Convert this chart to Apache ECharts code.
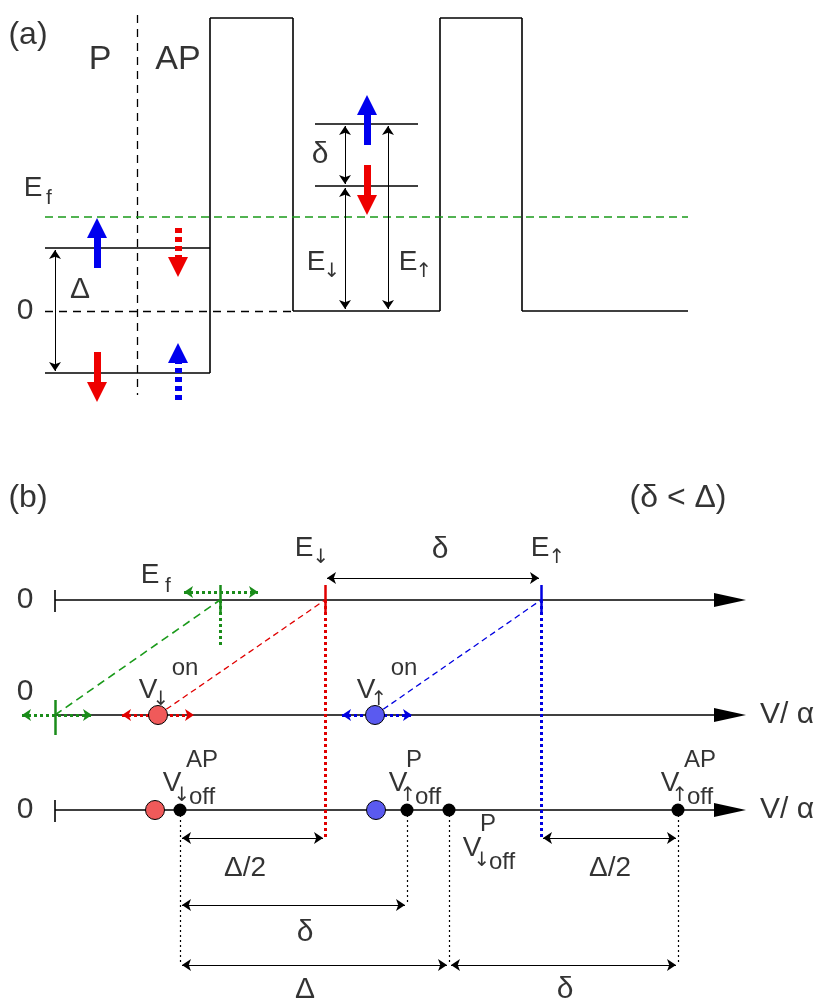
<!DOCTYPE html><html><head><meta charset="utf-8">
<script src="https://cdn.jsdelivr.net/npm/echarts@6/dist/echarts.min.js"></script>
<style>html,body{margin:0;background:#fff}#c{width:830px;height:999px}</style></head><body><div id="c"></div>
<script>
// [x1,y1,x2,y2]
const solidBlack=[[45,248,210,248],[45,373,210,373],[210,373,210,18],[210,18,293,18],[293,18,293,311],[293,311,440,311],[440,311,440,18],[440,18,522,18],[522,18,522,311],[522,311,688,311],[315,124,418,124],[315,186,418,186],
 [55,600,720,600],[55,715,720,715],[55,810,720,810],[55,590,55,612],[55,800,55,822]];
const dashedBlack=[[137,15,137,395],[45,311,293,311]];
const greenDashed=[[45,217,688,217],[55,715,220,600]];
const redDashed=[[158,715,325,600]];
const blueDashed=[[375,715,541,600]];
const doubleArrows=[[55,250,55,371],[345,126,345,184],[345,188,345,309],[388,126,388,309],[327,578,539,578],
 [182,838,323,838],[543,838,676,838],[182,905,405,905],[182,965,447,965],[451,965,676,965]];
const blackDotted=[[180,810,180,965],[407,810,407,905],[449,810,449,965],[678,810,678,965]];
const coloredTicks=[[220,585,220,615,'#1a8c1a'],[325,585,325,615,'#e00000'],[541,585,541,615,'#0000e0'],[55,700,55,735,'#1a8c1a']];
const coloredDotted=[[220,600,220,645,'#1a8c1a'],[325,600,325,838,'#e00000'],[541,600,541,838,'#0000e0']];
const dottedDouble=[[184,592,258,592,'#1a8c1a'],[22,715,92,715,'#1a8c1a'],[122,715,194,715,'#e00000'],[342,715,412,715,'#0000e0']];
// thick arrows [x,yStart,yEnd,color,dashed]
const thickArrows=[[97,268,228,'#0000ee',0],[97,352,392,'#ee0000',0],[178,228,267,'#ee0000',1],[178,400,353,'#0000ee',1],[367,145,105,'#0000ee',0],[367,165,205,'#ee0000',0]];
const axisHeads=[[730,600],[730,715],[730,810]];
const circles=[[158,715,'#f05a5a'],[375,715,'#5a5af0'],[155,810,'#f05a5a'],[376,810,'#5a5af0']];
const dots=[[180,810],[407,810],[449,810],[678,810]];
// texts [x,y,text,size]
const texts=[[28,35,'(a)',32],[100,60,'P',34],[178,60,'AP',34],[33,188,'E',28],[49,198,'f',21],[25,311,'0',30],[80,290,'Δ',30],
 [320,155,'δ',30],[316,262,'E',28],[332,272,'↓',20],[408,262,'E',28],[424,272,'↑',20],
 [28,498,'(b)',32],[678,498,'(δ < Δ)',32],[25,600,'0',30],[25,692,'0',30],[25,810,'0',30],
 [304,548,'E',28],[321,558,'↓',20],[540,548,'E',28],[557,558,'↑',20],[440,550,'δ',30],[150,575,'E',28],[168,586,'f',21],
 [148,690,'V',28],[161,700,'↓',20],[185,668,'on',24],[366,690,'V',28],[379,700,'↑',20],[404,668,'on',24],
 [172,783,'V',28],[182,796,'↓',20],[202,797,'off',24],[202,760,'AP',24],
 [398,783,'V',28],[408,796,'↑',20],[428,797,'off',24],[414,760,'P',24],
 [472,848,'V',28],[482,861,'↓',20],[502,862,'off',24],[488,824,'P',24],
 [670,783,'V',28],[680,796,'↑',20],[700,797,'off',24],[700,760,'AP',24],
 [787,715,'V/ α',30],[787,810,'V/ α',30],
 [245,868,'Δ/2',28],[610,868,'Δ/2',28],[305,933,'δ',30],[305,990,'Δ',30],[565,990,'δ',30]];

const seg=(arr,style,sym)=>({type:'lines',coordinateSystem:'cartesian2d',symbol:sym||['none','none'],symbolSize:9,
  lineStyle:Object.assign({opacity:1},style),
  data:arr.map(s=>({coords:[[s[0],s[1]],[s[2],s[3]]],lineStyle:s[4]?{color:s[4]}:undefined}))});
const series=[
 seg(solidBlack,{color:'#000',width:1.6}),
 seg(dashedBlack,{color:'#000',width:1.3,type:[8,6]}),
 seg(greenDashed,{color:'#1a9a1a',width:1.6,type:[8,5]}),
 seg(redDashed,{color:'#e00000',width:1.3,type:[6,4]}),
 seg(blueDashed,{color:'#0000e0',width:1.3,type:[6,4]}),
 seg(doubleArrows,{color:'#000',width:1},['arrow','arrow']),
 seg(blackDotted,{color:'#000',width:1.2,type:[2,3]}),
 seg(coloredTicks,{width:2.5}),
 seg(coloredDotted,{width:3,type:[3,3]}),
 seg(dottedDouble,{width:3,type:[3,3]},['arrow','arrow']),
 {type:'lines',coordinateSystem:'cartesian2d',symbol:['none','triangle'],symbolSize:20,
  data:thickArrows.map(a=>({coords:[[a[0],a[1]],[a[0],a[2]]],lineStyle:{color:a[3],width:7,opacity:1,type:a[4]?[5,4]:'solid'}}))},
 {type:'scatter',symbol:'triangle',symbolRotate:-90,symbolSize:[14,32],itemStyle:{color:'#000',opacity:1},data:axisHeads},
 {type:'scatter',symbolSize:19,data:circles.map(c=>({value:[c[0],c[1]],itemStyle:{color:c[2],borderColor:'#000',borderWidth:1,opacity:1}}))},
 {type:'scatter',symbolSize:13,itemStyle:{color:'#000',opacity:1},data:dots},
 {type:'scatter',symbolSize:0,silent:true,data:texts.map(t=>({value:[t[0],t[1]],label:{show:true,position:'inside',formatter:t[2],fontSize:t[3],color:'#000',fontFamily:/[↑↓]/.test(t[2])?'DejaVu Sans':'Liberation Sans'}}))}
];
const ch=echarts.init(document.getElementById('c'));
ch.setOption({animation:false,grid:{left:0,right:0,top:0,bottom:0},
 xAxis:{type:'value',min:0,max:830,show:false},yAxis:{type:'value',min:0,max:999,inverse:true,show:false},series});
</script></body></html>
